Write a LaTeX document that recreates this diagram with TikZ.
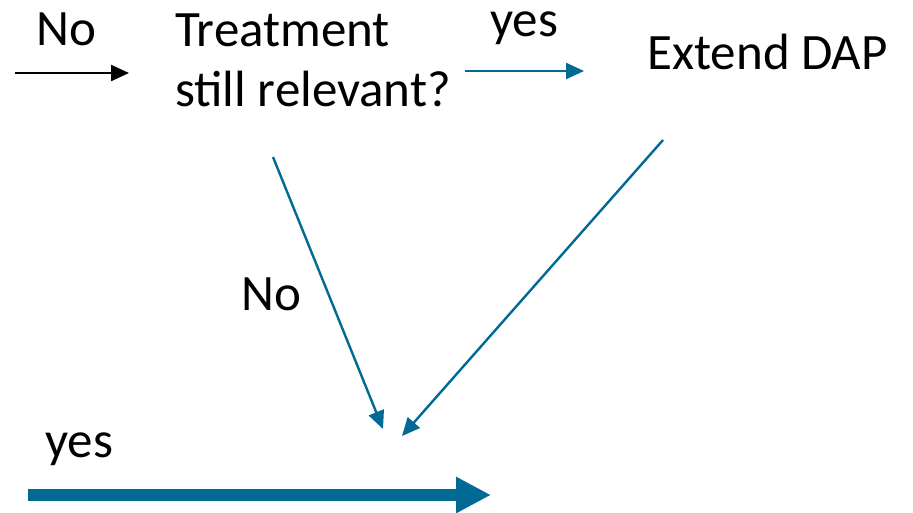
\documentclass[tikz,border=0pt]{standalone}
\usepackage{fontspec}
\setmainfont{Carlito}
\usetikzlibrary{arrows.meta}
\definecolor{flowblue}{RGB}{0,106,148}
\tikzset{
  lbl/.style={inner sep=0pt, anchor=base west, font=\fontsize{51}{60}\selectfont},
  thinarrow/.style={line width=2.4pt, -{Triangle[length=18pt,width=16pt]}},
  bluearrow/.style={thinarrow, draw=flowblue, fill=flowblue},
  thickarrow/.style={line width=12pt, draw=flowblue, -{Triangle[length=35pt,width=34pt]}}
}
\begin{document}
\begin{tikzpicture}[x=1pt,y=-1pt]
\useasboundingbox (0,0) rectangle (913,512);
\node[lbl] (no1) at (36,45) {No};
\node[lbl, align=left] (treat) at (175,106) {Treatment\\still relevant?};
\node[lbl] (yes1) at (490,36) {yes};
\node[lbl] (ext) at (647,69) {Extend DAP};
\node[lbl] (no2) at (241,310) {No};
\node[lbl] (yes2) at (45,457) {yes};
\coordinate (a1s) at (15,73);
\coordinate (a1e) at (129,73);
\coordinate (a2s) at (465,71);
\coordinate (a2e) at (584,71);
\coordinate (a3s) at (273,157);
\coordinate (a3e) at (383,429);
\coordinate (a4s) at (663,140);
\coordinate (a4e) at (402,436);
\coordinate (a5s) at (28,495);
\coordinate (a5e) at (491,495);
\draw[thinarrow] (a1s) -- (a1e);
\draw[bluearrow] (a2s) -- (a2e);
\draw[bluearrow] (a3s) -- (a3e);
\draw[bluearrow] (a4s) -- (a4e);
\draw[thickarrow] (a5s) -- (a5e);
\end{tikzpicture}
\end{document}
